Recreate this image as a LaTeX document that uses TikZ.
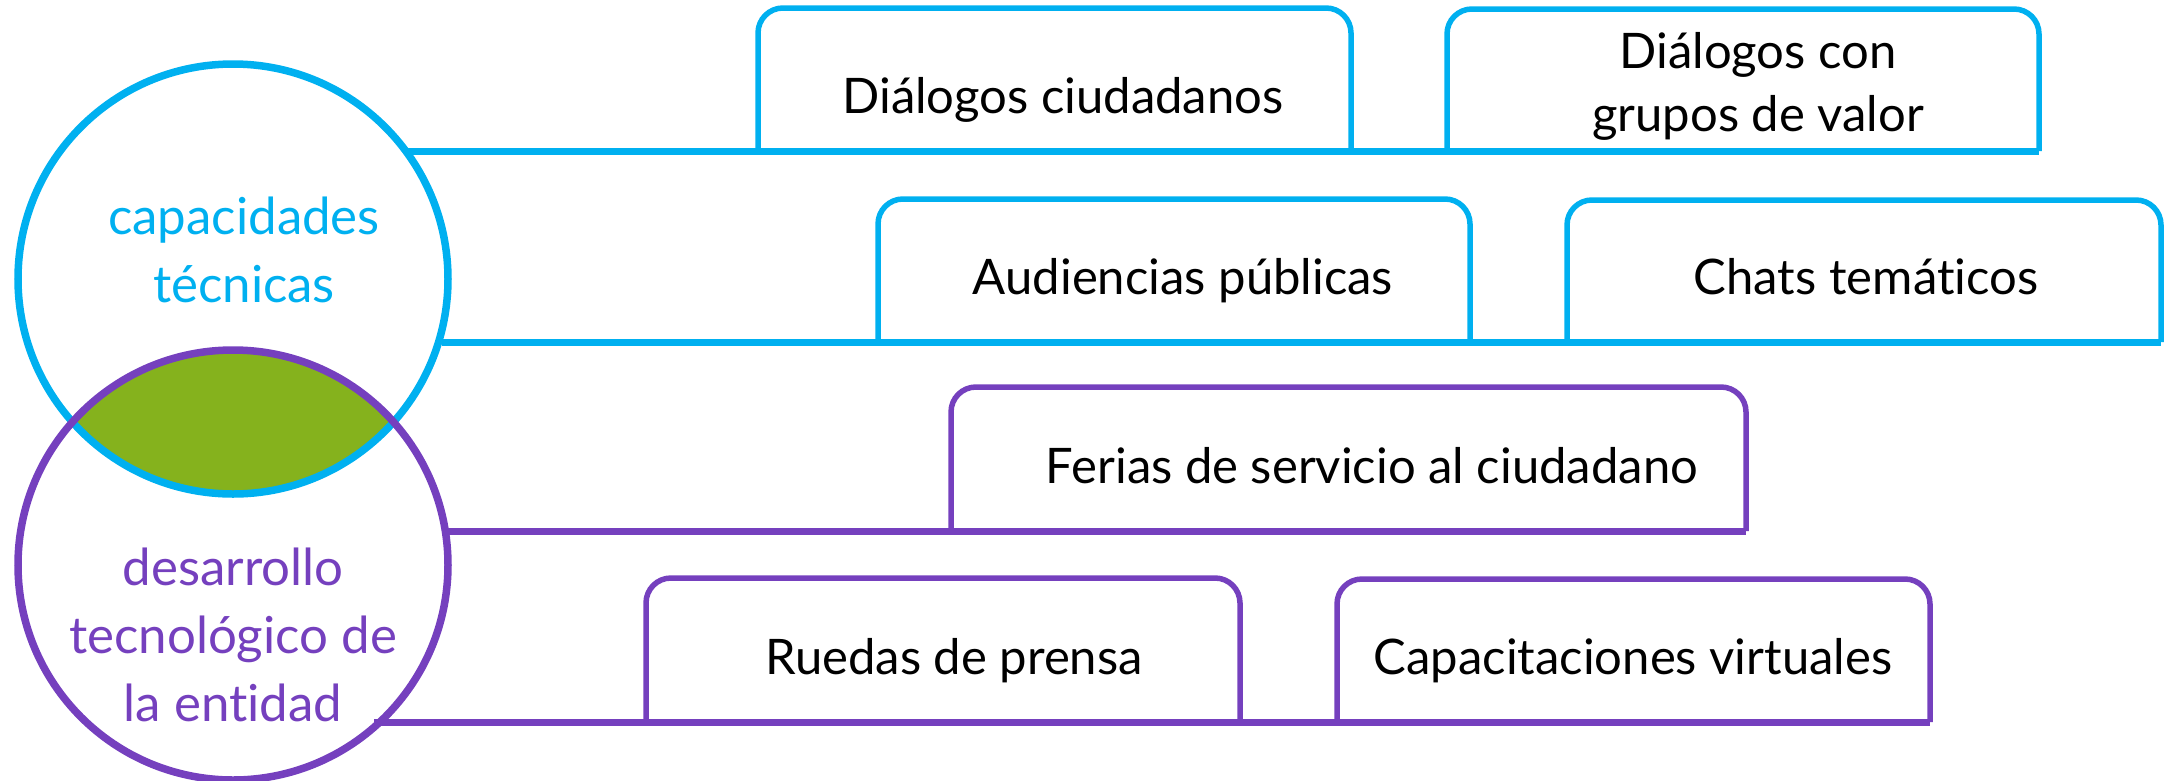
\documentclass[tikz,border=0pt]{standalone}
\usepackage{fontspec}
\setmainfont[Ligatures=CommonOff]{Lato}
\definecolor{cblue}{HTML}{00B0F0}
\definecolor{cpurple}{HTML}{7540BE}
\definecolor{cgreen}{HTML}{85B21D}
\tikzset{
  boxtxt/.style={anchor=base, inner sep=0pt, font=\fontsize{49}{63}\selectfont, text=black},
  circtxt/.style={align=center, inner sep=0pt, font=\fontsize{51}{68}\selectfont},
  tab/.style={line width=5.5pt, rounded corners=25pt},
  bar/.style={line width=7pt},
  ring/.style={line width=7.5pt},
}
\begin{document}
\begin{tikzpicture}[x=1pt,y=-1pt]
\useasboundingbox (0,0) rectangle (2168,780);
% circles
\coordinate (cb) at (233,279);
\coordinate (cp) at (233,565);
\begin{scope}
  \clip (cb) circle (215);
  \fill[cgreen] (cp) circle (215);
\end{scope}
\draw[ring, cblue] (cb) circle (215);
\draw[ring, cpurple] (cp) circle (215);
\node[circtxt, text=cblue] (tc) at (244,250) {capacidades\\técnicas};
\node[circtxt, text=cpurple] (td) at (233,635) {desarrollo\\tecnológico de\\la entidad};
% box corners
\coordinate (a1) at (758,151); \coordinate (a2) at (1351,8);
\coordinate (b1) at (1447,151); \coordinate (b2) at (2039,9);
\coordinate (c1) at (878,342); \coordinate (c2) at (1470,199);
\coordinate (d1) at (1567,342); \coordinate (d2) at (2161,200);
\coordinate (e1) at (951,531); \coordinate (e2) at (1746,387);
\coordinate (f1) at (646,722); \coordinate (f2) at (1240,578);
\coordinate (g1) at (1337,722); \coordinate (g2) at (1930,579);
% tabs
\draw[tab, cblue] (a1) -- (a1 |- a2) -- (a2) -- (a2 |- a1);
\draw[tab, cblue] (b1) -- (b1 |- b2) -- (b2) -- (b2 |- b1);
\draw[tab, cblue] (c1) -- (c1 |- c2) -- (c2) -- (c2 |- c1);
\draw[tab, cblue] (d1) -- (d1 |- d2) -- (d2) -- (d2 |- d1);
\draw[tab, cpurple] (e1) -- (e1 |- e2) -- (e2) -- (e2 |- e1);
\draw[tab, cpurple] (f1) -- (f1 |- f2) -- (f2) -- (f2 |- f1);
\draw[tab, cpurple] (g1) -- (g1 |- g2) -- (g2) -- (g2 |- g1);
% bars
\coordinate (s1) at (408,151);
\coordinate (s2) at (442,342);
\coordinate (s3) at (448,531);
\coordinate (s4) at (374,722);
\draw[bar, cblue] (s1) -- (b2 |- b1);
\draw[bar, cblue] (s2) -- (d2 |- d1);
\draw[bar, cpurple] (s3) -- (e2 |- e1);
\draw[bar, cpurple] (s4) -- (g2 |- g1);
% texts
\node[boxtxt] (ta) at (1063,113) {Diálogos ciudadanos};
\node[boxtxt, anchor=center, align=center] (tb) at (1758,86) {Diálogos con\\grupos de valor};
\node[boxtxt] (tcc) at (1183,294) {Audiencias públicas};
\node[boxtxt] (tdd) at (1866,294) {Chats temáticos};
\node[boxtxt] (te) at (1372,483) {Ferias de servicio al ciudadano};
\node[boxtxt] (tf) at (954,674) {Ruedas de prensa};
\node[boxtxt] (tg) at (1633,674) {Capacitaciones virtuales};
\end{tikzpicture}
\end{document}
